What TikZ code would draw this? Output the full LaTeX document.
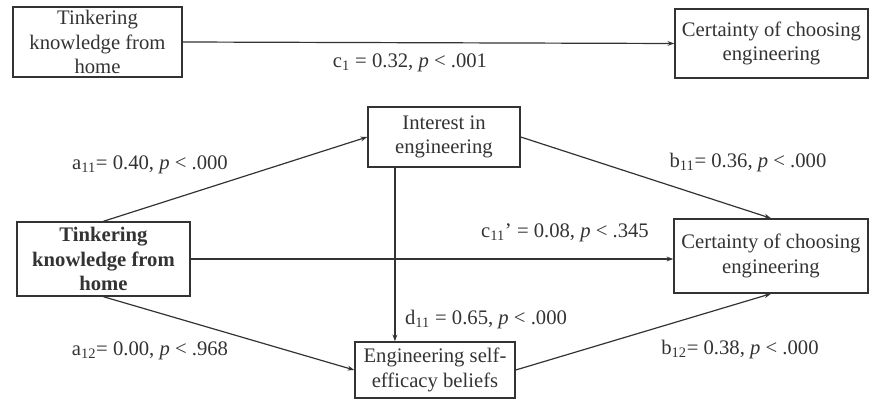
\documentclass[tikz,border=0pt]{standalone}
\usepackage{fontspec}
\setmainfont{Liberation Serif}
\usepackage{xcolor}
\usepackage{tikz}
\usetikzlibrary{arrows.meta,positioning}
\definecolor{ink}{HTML}{333333}

\begin{document}
\begin{tikzpicture}[x=0.75pt,y=-0.75pt,
  box/.style={draw=ink,line width=1.1pt,inner sep=0pt,align=center,text=ink,
    font=\fontsize{15.5}{18.5}\selectfont},
  lab/.style={text=ink,inner sep=0pt,font=\fontsize{15.5}{18.5}\selectfont},
  path/.style={draw=ink,line width=0.9pt,-{Stealth[length=5pt,width=3.6pt]}}]
\useasboundingbox (0,0) rectangle (869,402);
\node[box,minimum width=126.8pt,minimum height=52.5pt](tinkA) at (97.5,42){Tinkering\\knowledge from\\home};
\node[box,minimum width=144.8pt,minimum height=51.8pt](certA) at (771.5,43.5){Certainty of choosing\\engineering};
\node[box,minimum width=114pt,minimum height=45pt](interest) at (444,137){Interest in\\engineering};
\node[box,minimum width=129.8pt,minimum height=55.5pt,font=\fontsize{15.5}{18.5}\selectfont\bfseries](tinkB) at (103.5,259){Tinkering\\knowledge from\\home};
\node[box,minimum width=145.5pt,minimum height=55.5pt](certB) at (771,256){Certainty of choosing\\engineering};
\node[box,minimum width=120pt,minimum height=42pt](selfeff) at (435,370){Engineering self-\\efficacy beliefs};
\draw[path](tinkA.east)--(certA.west);
\draw[path](tinkB.north)--(interest.west);
\draw[path](tinkB.south)--(selfeff.west);
\draw[path](tinkB.east)--(tinkB.east-|certB.west);
\draw[path](interest.east)--(certB.north);
\draw[path](selfeff.east)--(certB.south);
\draw[path]([xshift=-36.8pt]interest.south)--([xshift=-36.8pt]interest.south|-selfeff.north);
\node[lab](c1) at (410,63){c\textsubscript{1} = 0.32, \textit{p} < .001};
\node[lab](a11) at (150,165){a\textsubscript{11}= 0.40, \textit{p} < .000};
\node[lab](b11) at (748,163){b\textsubscript{11}= 0.36, \textit{p} < .000};
\node[lab](c11) at (565,233){c\textsubscript{11}’ = 0.08, \textit{p} < .345};
\node[lab](d11) at (486,320){d\textsubscript{11} = 0.65, \textit{p} < .000};
\node[lab](a12) at (150,351){a\textsubscript{12}= 0.00, \textit{p} < .968};
\node[lab](b12) at (740,350){b\textsubscript{12}= 0.38, \textit{p} < .000};
\end{tikzpicture}
\end{document}
